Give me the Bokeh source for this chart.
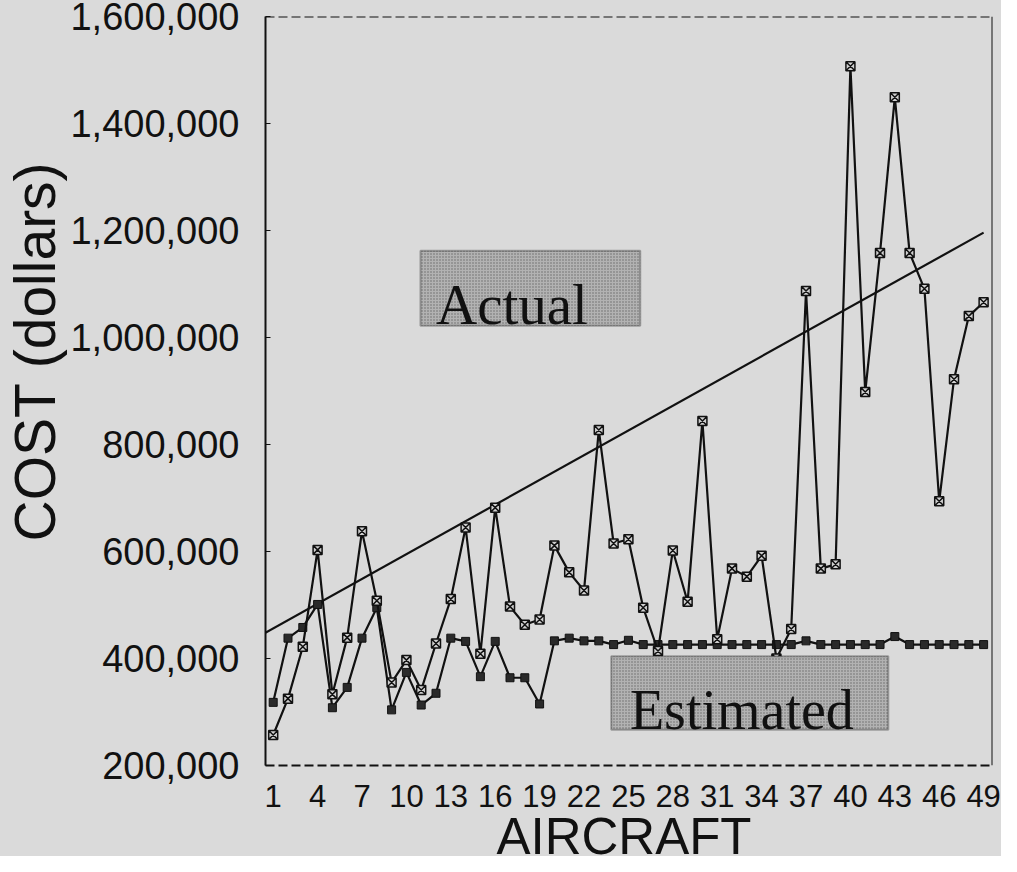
from bokeh.plotting import figure
from bokeh.layouts import column
from bokeh.models import (FixedTicker, NumeralTickFormatter, Range1d, Span,
                          BoxAnnotation, Label, Div)
from bokeh.embed import file_html
from bokeh.resources import INLINE

aircraft = list(range(1, 50))
actual = [257000, 325000, 422000, 603000, 333000, 439000, 638000, 508000, 355000, 397000,
          341000, 428000, 511000, 645000, 409000, 682000, 497000, 463000, 473000, 611000,
          561000, 527000, 827000, 615000, 623000, 495000, 414000, 602000, 506000, 844000,
          436000, 568000, 553000, 592000, 400000, 455000, 1087000, 568000, 576000, 1507000,
          898000, 1158000, 1449000, 1158000, 1091000, 694000, 922000, 1040000, 1066000]
estimated = [318000, 438000, 458000, 501000, 308000, 346000, 438000, 495000, 304000, 374000,
             313000, 335000, 438000, 432000, 366000, 432000, 364000, 364000, 315000, 433000,
             438000, 433000, 433000, 426000, 434000, 426000, 426000, 426000, 426000, 426000,
             426000, 426000, 426000, 426000, 426000, 426000, 433000, 426000, 426000, 426000,
             426000, 426000, 441000, 426000, 426000, 426000, 426000, 426000, 426000]
trend_x = [0, 49]
trend_y = [441000, 1196000]
x_ticks = list(range(1, 50, 3))
y_ticks = [200000, 400000, 600000, 800000, 1000000, 1200000, 1400000, 1600000]
x_title = "AIRCRAFT"

BG = "#dadada"
INK = "#111111"
SANS = "Liberation Sans"
SERIF = "Liberation Serif"

p = figure(width=1001, height=817, output_backend="svg", toolbar_location=None, title=None,
           x_range=Range1d(0.48, 49.6), y_range=Range1d(200000, 1600000),
           min_border_left=260, min_border_right=9, min_border_top=16, min_border_bottom=52)
p.background_fill_color = BG
p.border_fill_color = BG
p.outline_line_color = None
p.grid.visible = False

# y axis
p.yaxis.ticker = FixedTicker(ticks=y_ticks)
p.yaxis.formatter = NumeralTickFormatter(format="0,0")
p.yaxis.major_label_text_font = SANS
p.yaxis.major_label_text_font_size = "38px"
p.yaxis.major_label_text_color = INK
p.yaxis.major_label_standoff = 26
p.yaxis.major_tick_in = 5
p.yaxis.major_tick_out = 0
p.yaxis.minor_tick_line_color = None
p.yaxis.axis_line_width = 2
p.yaxis.axis_line_color = INK
p.yaxis.major_tick_line_color = INK
p.yaxis.axis_label = "\u00a0" * 5 + "COST (dollars)"
p.yaxis.axis_label_text_font = SANS
p.yaxis.axis_label_text_font_style = "normal"
p.yaxis.axis_label_text_font_size = "57px"
p.yaxis.axis_label_text_color = INK
p.yaxis.axis_label_standoff = 0

# x axis
p.xaxis.ticker = FixedTicker(ticks=x_ticks)
p.xaxis.major_label_text_font = SANS
p.xaxis.major_label_text_font_size = "31px"
p.xaxis.major_label_text_color = INK
p.xaxis.major_label_standoff = 13
p.xaxis.major_tick_line_color = None
p.xaxis.minor_tick_line_color = None
p.xaxis.axis_line_width = 2
p.xaxis.axis_line_color = INK
p.xaxis.axis_line_dash = "9 4"

# frame top (dashed) and right (solid)
p.add_layout(Span(location=1600000, dimension="width", line_color=INK,
                  line_width=2, line_dash="9 4"))
p.add_layout(Span(location=49.6, dimension="height", line_color=INK,
                  line_width=2))

# trend line
p.line(trend_x, trend_y, line_color=INK, line_width=2.2)

# estimated series
p.line(aircraft, estimated, line_color=INK, line_width=2.2)
p.scatter(aircraft, estimated, marker="square", size=8, fill_color="#2a2a2a",
          line_color=INK, line_width=1)

# actual series
p.line(aircraft, actual, line_color=INK, line_width=2.2)
p.scatter(aircraft, actual, marker="square_x", size=9, fill_color="#cfcfcf",
          line_color=INK, line_width=1.5)

# labelled boxes
box_style = dict(fill_color="#b2b2b2", fill_alpha=1.0, line_color=INK, line_width=2,
                 hatch_pattern="dot", hatch_color="#555555", hatch_scale=3,
                 hatch_alpha=0.8, level="overlay")
p.add_layout(BoxAnnotation(left=10.95, right=25.8, bottom=1022000, top=1162000, **box_style))
p.add_layout(Label(x=12.0, y=1061000, text="Actual", text_font=SERIF,
                   text_font_size="57px", text_color=INK,
                   text_baseline="alphabetic", level="overlay"))

p.add_layout(BoxAnnotation(left=23.84, right=42.56, bottom=267000, top=404000, **box_style))
p.add_layout(Label(x=25.1, y=303000, text="Estimated", text_font=SERIF,
                   text_font_size="56px", text_color=INK,
                   text_baseline="alphabetic", level="overlay"))

# x-axis title, in a strip directly under the chart
title_html = (
    '<div style="position:relative;width:1001px;height:39px;background:%s;overflow:hidden;">'
    '<span style="position:absolute;left:624px;top:1px;transform:translateX(-50%%);'
    "font-family:'Liberation Sans';font-size:51px;line-height:37px;color:%s;"
    'white-space:nowrap;">%s</span></div>' % (BG, INK, x_title)
)
strip = Div(text=title_html, width=1001, height=39, margin=(0, 0, 0, 0))

layout = column(p, strip, spacing=0, styles={"background-color": BG})
open("out.html", "w").write(file_html(layout, INLINE))
